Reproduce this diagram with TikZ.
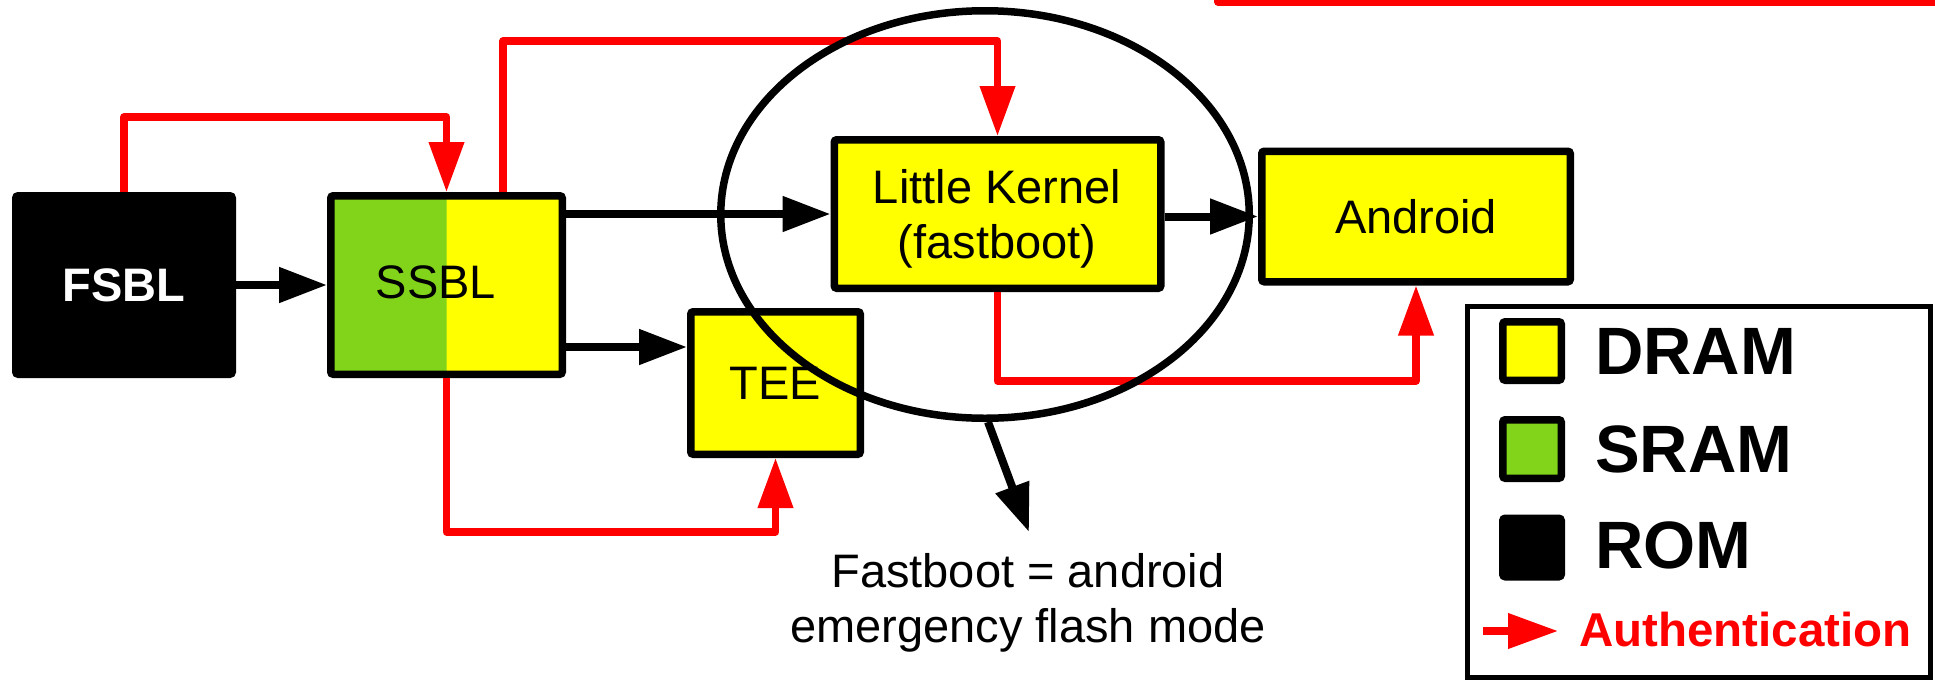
\documentclass[tikz,border=0pt]{standalone}
\usepackage{fontspec}
\setmainfont{Liberation Sans}
\usetikzlibrary{arrows.meta,shapes.geometric}
\definecolor{dramyellow}{HTML}{FFFF00}
\definecolor{sramgreen}{HTML}{81D41A}
\definecolor{authred}{HTML}{FF0000}
\begin{document}
\begin{tikzpicture}[x=1pt,y=-1pt,
  txt/.style={font=\fontsize{47}{55}\selectfont, inner sep=0pt, align=center},
  box/.style={draw=black, line width=7.5pt, rounded corners=2.5pt, inner sep=0pt, fill=dramyellow, txt},
  blk/.style={draw=black, line width=8pt, -{Triangle[length=48pt,width=34pt]}},
  auth/.style={draw=authred, line width=7.3pt, line join=round, -{Triangle[length=50pt,width=34pt]}},
  leg/.style={draw=black, line width=7.5pt, rounded corners=2.5pt, minimum width=58.5pt, minimum height=58.5pt, inner sep=0pt},
  legtxt/.style={font=\fontsize{67}{80}\selectfont\bfseries, inner sep=0pt, anchor=west}
]
\useasboundingbox (0,0) rectangle (1935,683);
\clip (0,0) rectangle (1935,683);
\fill[white] (0,0) rectangle (1935,683);

% boxes
\node[box, fill=black, text=white, font=\fontsize{47}{55}\selectfont\bfseries, minimum width=216.5pt, minimum height=178.5pt] (fsbl) at (124,285) {FSBL};
\node[box, minimum width=231.5pt, minimum height=178.5pt,
  path picture={\fill[sramgreen] (path picture bounding box.north west) rectangle (path picture bounding box.south);}] (ssbl) at (446.5,285) {};
\node[txt] (ssbltxt) at (436,282) {SSBL};
\node[box, minimum width=169.5pt, minimum height=142.5pt] (tee) at (775.5,383) {TEE};
\node[box, minimum width=326.5pt, minimum height=148.5pt] (lk) at (997.5,214) {};
\node[txt] (lktxt) at (997,219) {Little Kernel\\(fastboot)};
\node[box, minimum width=308.5pt, minimum height=130.5pt] (android) at (1416,216.5) {Android};

% helper coordinates
\coordinate (y117) at (0,117);
\coordinate (y41) at (0,41);
\coordinate (x503) at (503,0);
\coordinate (y532) at (0,532);
\coordinate (y381) at (0,381);
\coordinate (y347) at (0,347);

% black arrows
\draw[blk] (fsbl.east) -- (ssbl.west);
\draw[blk] (ssbl.east |- lk.west) -- (lk.west);
\draw[blk] (ssbl.east |- y347) -- (tee.west |- y347);
\draw[blk] (lk.east |- android.west) -- (android.west);

% authentication (red) arrows
\draw[auth] (fsbl.north) -- (fsbl.north |- y117) -| (ssbl.north);
\draw[auth] (x503 |- ssbl.north) -- (x503 |- y41) -| (lk.north);
\draw[auth] (ssbl.south) -- (ssbl.south |- y532) -| (tee.south);
\draw[auth] (lk.south) -- (lk.south |- y381) -| (android.south);
\draw[draw=authred, line width=7.3pt, line join=round] (1218,-40) -- (1218,2) -- (1960,2);

% ellipse and fastboot note
\node[draw, ellipse, line width=7.5pt, minimum width=528.5pt, minimum height=407.5pt, inner sep=0pt] (ell) at (985,214.5) {};
\coordinate (fbtip) at (1029,532);
\draw[blk] ([xshift=3pt]ell.south) -- (fbtip);
\node[txt] (fbtext) at (1028,603) {Fastboot = android\\emergency flash mode};

% legend
\node[draw, line width=5pt, minimum width=463pt, minimum height=371pt, inner sep=0pt, fill=white] (legend) at (1699,492) {};
\node[leg, fill=dramyellow] (kdram) at (1532,351) {};
\node[leg, fill=sramgreen] (ksram) at (1532,449) {};
\node[leg, fill=black] (krom) at (1532,547.5) {};
\node[legtxt] (ldram) at (1595,351) {DRAM};
\node[legtxt] (lsram) at (1595,449.5) {SRAM};
\node[legtxt] (lrom) at (1595,545) {ROM};
\coordinate (aa) at (1483,631);
\coordinate (ab) at (1558,631);
\draw[auth] (aa) -- (ab);
\node[legtxt, text=authred, font=\fontsize{47.5}{55}\selectfont\bfseries] (lauth) at (1579,629.5) {Authentication};
\end{tikzpicture}
\end{document}
